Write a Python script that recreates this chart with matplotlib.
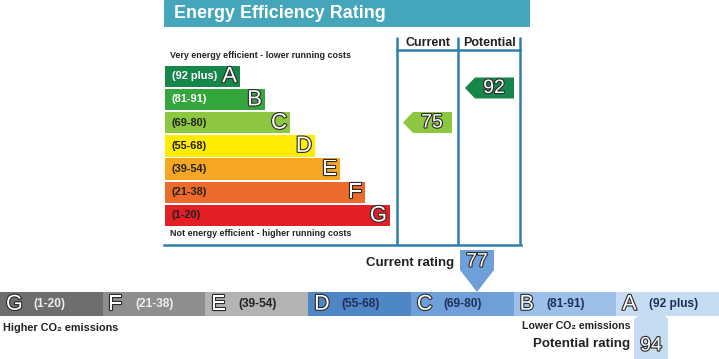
import matplotlib
matplotlib.use("Agg")
import matplotlib.pyplot as plt
import matplotlib.patheffects as pe
from matplotlib.patches import Rectangle, Polygon
import numpy as np

plt.rcParams['font.family'] = ['Liberation Sans', 'DejaVu Sans']

# energy efficiency bands (top chart)
eff_letters = ['A', 'B', 'C', 'D', 'E', 'F', 'G']
eff_ranges = ['(92 plus)', '(81-91)', '(69-80)', '(55-68)', '(39-54)', '(21-38)', '(1-20)']
eff_current = 75
eff_potential = 92

# CO2 bands (bottom strip), worst to best
co2_letters = ['G', 'F', 'E', 'D', 'C', 'B', 'A']
co2_ranges = ['(1-20)', '(21-38)', '(39-54)', '(55-68)', '(69-80)', '(81-91)', '(92 plus)']
co2_current = 77
co2_potential = 94

# styles
eff_colors = ['#17864a', '#34a63c', '#8dc63f', '#ffec00', '#f6a623', '#ec6a2a', '#e31e25']
eff_text = ['white', 'white', '#222222', '#222222', '#222222', '#222222', '#222222']
co2_colors = ['#6e6e6e', '#8e8e8e', '#b3b3b3', '#4f86c6', '#6f9fd8', '#9cc0e8', '#c6dcf2']
co2_text = ['#eeeeee', '#eeeeee', '#222222', '#1e2f5a', '#1e2f5a', '#1e2f5a', '#1e2f5a']
line_col = '#2f7fae'
teal = '#45a5bb'

outline = [pe.withStroke(linewidth=1.6, foreground='#2a2a2a')]

fig = plt.figure(figsize=(7.19, 3.59), dpi=100)
ax = fig.add_axes([0, 0, 1, 1])
ax.set_xlim(0, 719)
ax.set_ylim(359, 0)
ax.axis('off')

# title bar
ax.add_patch(Rectangle((164, 0), 366, 27, color=teal, lw=0))
ax.text(174, 14, 'Energy Efficiency Rating', color='white', fontsize=12.9,
        fontweight='bold', va='center', ha='left')

# frame lines
for x in [397, 458, 520]:
    ax.plot([x, x], [37, 245], color=line_col, lw=1.8, solid_capstyle='butt')
ax.plot([397, 520], [50, 50], color=line_col, lw=1.8)
ax.plot([164, 521], [245, 245], color=line_col, lw=1.8)
ax.text(427.5, 43, 'Current', fontsize=9, fontweight='bold', ha='center', va='center', color='#222')
ax.text(489, 43, 'Potential', fontsize=9, fontweight='bold', ha='center', va='center', color='#222')

ax.text(170, 56, 'Very energy efficient - lower running costs', fontsize=6.4,
        fontweight='bold', va='center', color='#222')
ax.text(170, 234, 'Not energy efficient - higher running costs', fontsize=6.4,
        fontweight='bold', va='center', color='#222')

# efficiency bars
bar_top, pitch, bar_h = 65.5, 23.2, 21.5
for i, (let, rng) in enumerate(zip(eff_letters, eff_ranges)):
    y = bar_top + i * pitch
    w = 75 + 25 * i
    ax.add_patch(Rectangle((165, y), w, bar_h, color=eff_colors[i], lw=0))
    ax.text(172, y + bar_h / 2, rng, fontsize=7.9, fontweight='bold',
            color=eff_text[i], va='center', ha='left')
    ax.text(165 + w - 3, y + bar_h / 2 + 0.5, let, fontsize=16, color='white',
            va='center', ha='right', path_effects=outline)


def band_index(score):
    lows = [92, 81, 69, 55, 39, 21, 1]
    for k, lo in enumerate(lows):
        if score >= lo:
            return k
    return 6


def eff_arrow(score, x0, y_c):
    col = eff_colors[band_index(score)]
    h = 21
    pts = [(x0, y_c), (x0 + 10, y_c - h / 2), (x0 + 49, y_c - h / 2),
           (x0 + 49, y_c + h / 2), (x0 + 10, y_c + h / 2)]
    ax.add_patch(Polygon(pts, closed=True, color=col, lw=0))
    ax.text(x0 + 29, y_c + 0.5, str(score), fontsize=14, color='white',
            ha='center', va='center', path_effects=outline)


# arrow vertical position scales linearly with score
def eff_y(score):
    return 122.5 - 2.03 * (score - 75)


eff_arrow(eff_current, 403, eff_y(eff_current))
eff_arrow(eff_potential, 465, eff_y(eff_potential))

# CO2 strip
seg_w = 719 / 7.0
strip_y, strip_h = 292, 23.5
for i, (let, rng) in enumerate(zip(co2_letters, co2_ranges)):
    x = i * seg_w
    ax.add_patch(Rectangle((x, strip_y), seg_w + 0.5, strip_h, color=co2_colors[i], lw=0))
    ax.text(x + 6, strip_y + strip_h / 2 + 0.5, let, fontsize=15.5, color='white',
            va='center', ha='left', path_effects=outline)
    ax.text(x + 33, strip_y + strip_h / 2, rng, fontsize=8.6, fontweight='bold',
            color=co2_text[i], va='center', ha='left')


def co2_x(score):
    return 477 + (score - 77) * 10.24


# current rating pointer (above strip, pointing down)
cx = co2_x(co2_current)
pts = [(cx - 17, 250), (cx + 17, 250), (cx + 17, 270), (cx, 292), (cx - 17, 270)]
ax.add_patch(Polygon(pts, closed=True, color='#6f9fd8', lw=0))
ax.text(cx, 262, str(co2_current), fontsize=14, color='white', ha='center',
        va='center', path_effects=outline)
ax.text(cx - 23, 263, 'Current rating', fontsize=9.5, fontweight='bold',
        ha='right', va='center', color='#222')

# potential rating pointer (below strip, pointing up)
px = co2_x(co2_potential)
pts = [(px, 305), (px + 17, 319), (px + 17, 359), (px - 17, 359), (px - 17, 319)]
ax.add_patch(Polygon(pts, closed=True, color='#c6dcf2', lw=0))
ax.text(px, 346, str(co2_potential), fontsize=14, color='white', ha='center',
        va='center', path_effects=outline)
ax.text(px - 21, 344, 'Potential rating', fontsize=9.6, fontweight='bold',
        ha='right', va='center', color='#222')

ax.text(3, 328, 'Higher CO₂ emissions', fontsize=7.8, fontweight='bold',
        va='center', ha='left', color='#222')
ax.text(630, 326, 'Lower CO₂ emissions', fontsize=7.6, fontweight='bold',
        va='center', ha='right', color='#222')

fig.savefig('out.png', dpi=100)
